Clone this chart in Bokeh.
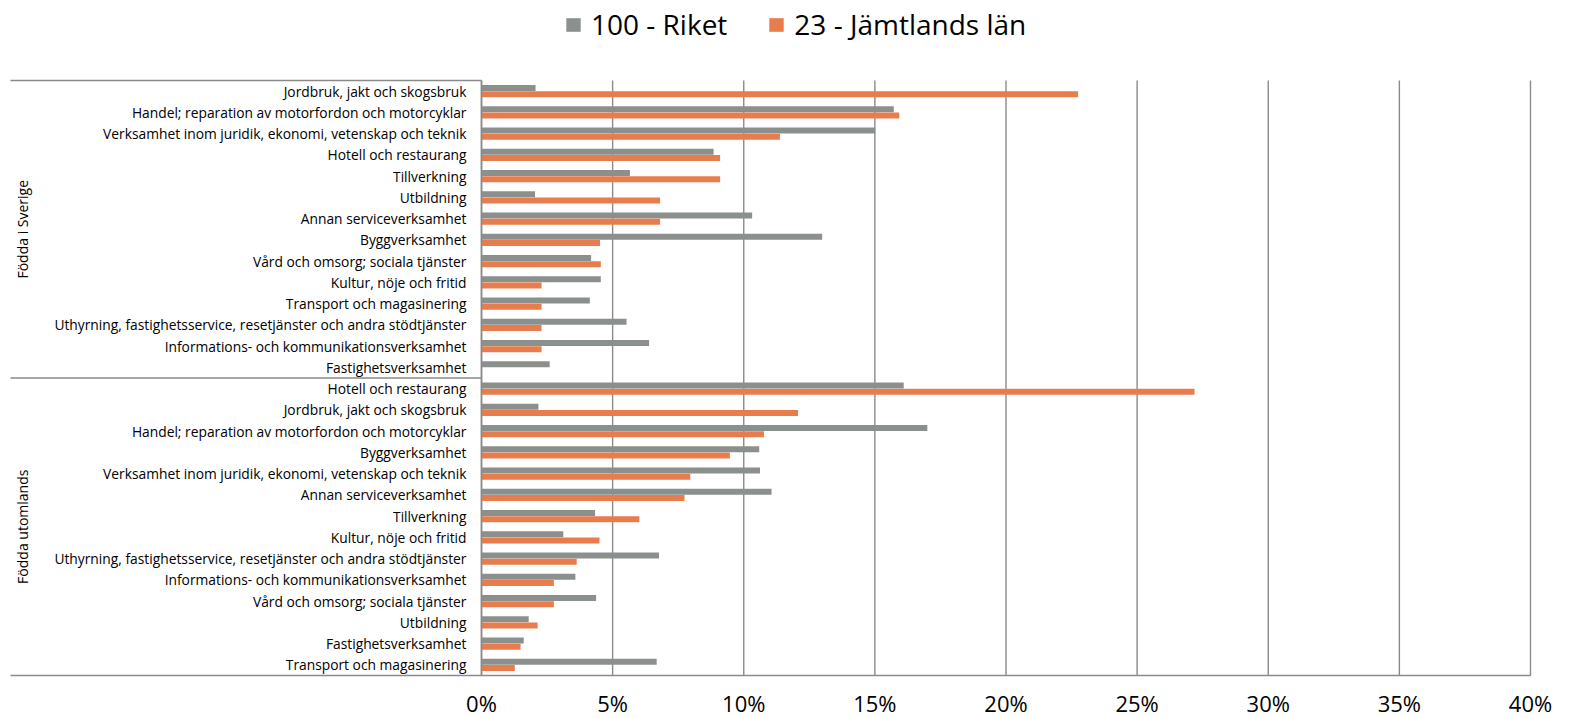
import math
from bokeh.plotting import figure
from bokeh.models import Range1d, ColumnDataSource, Legend, LegendItem
from bokeh.core.properties import value
from bokeh.embed import file_html
from bokeh.resources import INLINE

# ---------------- data ----------------
series_names = ["100 - Riket", "23 - Jämtlands län"]
groups = ["Födda i Sverige", "Födda utomlands"]

cats_sverige = [
    "Jordbruk, jakt och skogsbruk",
    "Handel; reparation av motorfordon och motorcyklar",
    "Verksamhet inom juridik, ekonomi, vetenskap och teknik",
    "Hotell och restaurang",
    "Tillverkning",
    "Utbildning",
    "Annan serviceverksamhet",
    "Byggverksamhet",
    "Vård och omsorg; sociala tjänster",
    "Kultur, nöje och fritid",
    "Transport och magasinering",
    "Uthyrning, fastighetsservice, resetjänster och andra stödtjänster",
    "Informations- och kommunikationsverksamhet",
    "Fastighetsverksamhet",
]
riket_sverige = [2.06, 15.72, 15.01, 8.85, 5.66, 2.04, 10.32, 12.99, 4.18, 4.55, 4.13, 5.53, 6.39, 2.60]
jamt_sverige = [22.75, 15.93, 11.38, 9.10, 9.10, 6.81, 6.81, 4.52, 4.55, 2.29, 2.29, 2.29, 2.29, 0.0]

cats_utomlands = [
    "Hotell och restaurang",
    "Jordbruk, jakt och skogsbruk",
    "Handel; reparation av motorfordon och motorcyklar",
    "Byggverksamhet",
    "Verksamhet inom juridik, ekonomi, vetenskap och teknik",
    "Annan serviceverksamhet",
    "Tillverkning",
    "Kultur, nöje och fritid",
    "Uthyrning, fastighetsservice, resetjänster och andra stödtjänster",
    "Informations- och kommunikationsverksamhet",
    "Vård och omsorg; sociala tjänster",
    "Utbildning",
    "Fastighetsverksamhet",
    "Transport och magasinering",
]
riket_utomlands = [16.10, 2.17, 17.00, 10.59, 10.62, 11.06, 4.33, 3.12, 6.77, 3.58, 4.37, 1.80, 1.61, 6.68]
jamt_utomlands = [27.19, 12.07, 10.77, 9.47, 7.96, 7.74, 6.02, 4.50, 3.63, 2.76, 2.76, 2.14, 1.49, 1.27]

ticks = [0, 5, 10, 15, 20, 25, 30, 35, 40]
tick_labels = ["0%", "5%", "10%", "15%", "20%", "25%", "30%", "35%", "40%"]

# ---------------- layout constants (screen pixels) ----------------
FIG_W, FIG_H = 1569, 718
PX = 1049 / 40.0          # pixels per percent
ZERO_X = 481              # screen x of 0 %
SLOT = 21.25              # px per category slot
TOP_Y = 80                # screen y of first slot top

X0 = -ZERO_X / PX
X1 = 40 + (FIG_W - 1530) / PX
S_TOP = -TOP_Y / SLOT
S_BOT = (FIG_H - TOP_Y) / SLOT

GRAY = "#8c908d"
ORANGE = "#e97c4c"
LINE = "#8a8a8a"
FONT = "Open Sans"

n = len(cats_sverige)
cats_all = cats_sverige + cats_utomlands
riket_all = riket_sverige + riket_utomlands
jamt_all = jamt_sverige + jamt_utomlands
total = len(cats_all)
centers = [i + 0.5 for i in range(total)]
BAR_H = 0.285
OFF = 0.143

p = figure(width=FIG_W, height=FIG_H,
           x_range=Range1d(X0, X1), y_range=Range1d(S_BOT, S_TOP),
           output_backend="svg", toolbar_location=None,
           x_axis_location=None, y_axis_location=None,
           min_border_left=0, min_border_right=0, min_border_top=0, min_border_bottom=0)
p.outline_line_color = None
p.xgrid.visible = False
p.ygrid.visible = False
p.background_fill_color = "white"
p.border_fill_color = "white"

# vertical gridlines at ticks
p.segment(x0=ticks, x1=ticks, y0=[0] * len(ticks), y1=[total] * len(ticks),
          line_color=LINE, line_width=1.4)

# bars
src_r = ColumnDataSource(dict(y=[c - OFF for c in centers], v=riket_all))
src_j = ColumnDataSource(dict(y=[c + OFF for c in centers], v=jamt_all))
r_riket = p.hbar(y="y", left=0, right="v", height=BAR_H, source=src_r,
                 fill_color=GRAY, line_color=None)
r_jamt = p.hbar(y="y", left=0, right="v", height=BAR_H, source=src_j,
                fill_color=ORANGE, line_color=None)

# category axis line and group separators
p.segment(x0=[0], x1=[0], y0=[0], y1=[total], line_color=LINE, line_width=1.6)
sep_y = [0, n, total]
sep_x1 = [0, 0, 40]
p.segment(x0=[X0 + 10 / PX] * 3, x1=sep_x1, y0=sep_y, y1=sep_y,
          line_color=LINE, line_width=1.6)

# category labels
p.text(x=[-15 / PX] * total, y=centers, text=cats_all,
       text_align="right", text_baseline="middle",
       text_font=value(FONT), text_font_size="13.8px", text_color="#000000")

# group labels (rotated)
p.text(x=[(22 - ZERO_X) / PX] * 2, y=[n / 2, n + n / 2], text=groups,
       angle=math.pi / 2, text_align="center", text_baseline="middle",
       text_font=value(FONT), text_font_size="14px", text_color="#000000")

# x tick labels
tick_y = (702.5 - TOP_Y) / SLOT
p.text(x=ticks, y=[tick_y] * len(ticks), text=tick_labels,
       text_align="center", text_baseline="middle",
       text_font=value(FONT), text_font_size="22px", text_color="#000000")

# legend
legend = Legend(items=[LegendItem(label=series_names[0], renderers=[r_riket]),
                       LegendItem(label=series_names[1], renderers=[r_jamt])],
                orientation="horizontal", location=(564, FIG_H - 43),
                glyph_width=18, glyph_height=17, label_standoff=9, spacing=40,
                padding=0, margin=0, border_line_color=None,
                background_fill_alpha=0,
                label_text_font=FONT, label_text_font_size="28px",
                label_text_color="#000000")
p.add_layout(legend)

open("out.html", "w").write(file_html(p, INLINE))
